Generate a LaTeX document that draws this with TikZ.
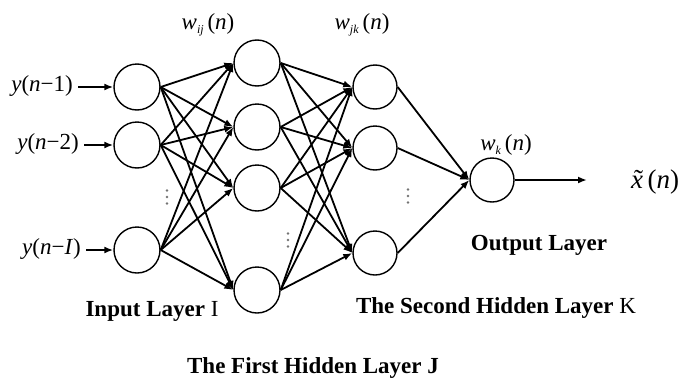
\documentclass[tikz,border=0pt]{standalone}
\usepackage{fontspec}
\setmainfont{Liberation Serif}
\usetikzlibrary{arrows.meta}
\newcommand{\mytildex}{\leavevmode\setbox0\hbox{\textit{x}}\rlap{\kern0.06em\hbox to \wd0{\hss\char"02DC\hss}}\box0}
\begin{document}
\begin{tikzpicture}[x=1pt,y=-1pt,
  neuron/.style={circle, draw, line width=1.4pt, minimum size=46pt, inner sep=0pt},
  neuronb/.style={neuron, minimum size=44pt},
  conn/.style={line width=1.8pt, -{Latex[length=9pt,width=7pt]}},
  inarrow/.style={line width=2.2pt, -{Latex[length=9pt,width=7pt]}, shorten <=5pt},
  mlabel/.style={inner sep=0pt, font=\fontsize{23}{26}\selectfont},
  blabel/.style={inner sep=0pt, font=\fontsize{23}{26}\selectfont\bfseries},
  vdot/.style={circle, fill=black!55, inner sep=0pt, minimum size=2.6pt}
]
\useasboundingbox (0,0) rectangle (685,383);

% input layer
\node[neuron] (i1) at (137,87) {};
\node[neuron] (i2) at (137,145) {};
\node[neuron] (i3) at (137,250) {};
% first hidden layer
\node[neuron] (a1) at (257,63) {};
\node[neuron] (a2) at (257,127) {};
\node[neuron] (a3) at (257,188) {};
\node[neuron] (a4) at (257,290) {};
% second hidden layer
\node[neuronb] (b1) at (375,87) {};
\node[neuronb] (b2) at (375,148) {};
\node[neuronb] (b3) at (375,253) {};
% output
\node[neuronb] (o) at (492,180) {};

% input labels
\node[mlabel, anchor=east] (y1) at (73,86) {\textit{y}(\textit{n}−1)};
\node[mlabel, anchor=east] (y2) at (79,144) {\textit{y}(\textit{n}−2)};
\node[mlabel, anchor=east] (y3) at (81,249) {\textit{y}(\textit{n}−\textit{I})};
\draw[inarrow] (y1.east |- i1) -- (i1);
\draw[inarrow] (y2.east |- i2) -- (i2);
\draw[inarrow] (y3.east |- i3) -- (i3);

% connections
\foreach \i in {1,2,3}
  \foreach \j in {1,2,3,4}
    \draw[conn] (i\i.east) -- (a\j.west);
\foreach \j in {1,2,3,4}
  \foreach \k in {1,2,3}
    \draw[conn] (a\j.east) -- (b\k.west);
\foreach \k in {1,2,3}
  \draw[conn] (b\k.east) -- (o.west);

\coordinate (oend) at (587,180);
\draw[conn] (o.east) -- (oend);

% dots
\foreach \n/\x/\y in {p/167/197, q/288/240, r/408/196}{
  \node[vdot] (\n1) at (\x,\y-6.5) {};
  \node[vdot] (\n2) at (\x,\y) {};
  \node[vdot] (\n3) at (\x,\y+6.5) {};
}

% weight labels
\node[mlabel] (wij) at (208,25) {\textit{w}\raisebox{-0.35ex}{\fontsize{12}{14}\selectfont\textit{ij}}\,(\textit{n})};
\node[mlabel] (wjk) at (362,25) {\textit{w}\raisebox{-0.35ex}{\fontsize{12}{14}\selectfont\textit{jk}}\,(\textit{n})};
\node[mlabel] (wk) at (506,145) {\textit{w}\raisebox{-0.35ex}{\fontsize{12}{14}\selectfont\textit{k}}\,(\textit{n})};
\node[inner sep=0pt, font=\fontsize{27}{30}\selectfont] (xt) at (655,182) {\mytildex\,(\textit{n})};

% layer labels
\node[blabel] (lin) at (152,311) {Input Layer \mdseries I};
\node[blabel] (l2) at (496,308) {The Second Hidden Layer \mdseries K};
\node[blabel] (l1) at (313,368) {The First Hidden Layer J};
\node[blabel] (lout) at (539,245) {Output Layer};
\end{tikzpicture}
\end{document}
